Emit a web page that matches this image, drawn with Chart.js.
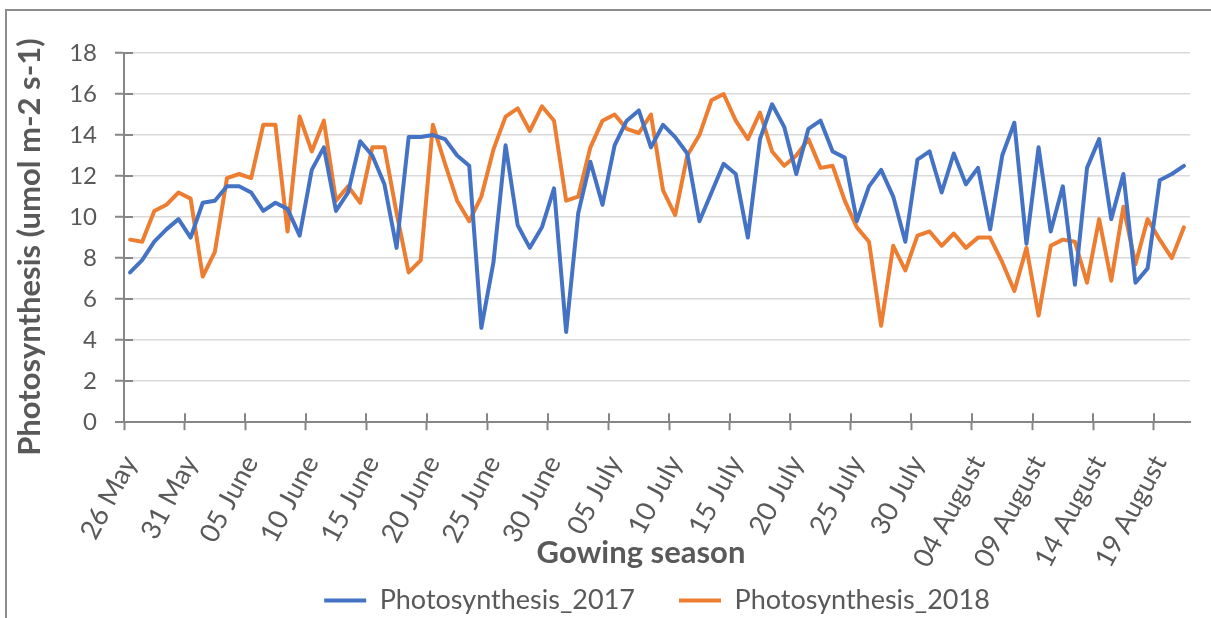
<!DOCTYPE html>
<html>
<head>
<meta charset="utf-8">
<script src="https://cdn.jsdelivr.net/npm/chart.js@4.4.1/dist/chart.umd.min.js"></script>
<style>
  html, body { margin: 0; padding: 0; background: #ffffff; }
  #wrap { width: 1211px; height: 618px; position: relative; }
</style>
</head>
<body>
<div id="wrap"><canvas id="chart" width="1211" height="618"></canvas></div>
<script>
// Daily categories: 26 May .. 21 August
const months = ['May', 'June', 'July', 'August'];
const monthDays = [31, 30, 31, 31];
const categories = [];
(function buildDays() {
  let m = 0, d = 26;
  for (let i = 0; i < 88; i++) {
    categories.push(String(d).padStart(2, '0') + ' ' + months[m]);
    d++;
    if (d > monthDays[m]) { d = 1; m++; }
  }
})();

// Every fifth day carries a tick label
const labelEvery = 5;

// Photosynthesis rate (umol m-2 s-1)
const photosynthesis2017 = [
  7.3, 7.9, 8.8, 9.4, 9.9, 9.0, 10.7, 10.8, 11.5, 11.5,
  11.2, 10.3, 10.7, 10.4, 9.1, 12.3, 13.4, 10.3, 11.2, 13.7,
  13.0, 11.6, 8.5, 13.9, 13.9, 14.0, 13.8, 13.0, 12.5, 4.6,
  7.8, 13.5, 9.6, 8.5, 9.5, 11.4, 4.4, 10.2, 12.7, 10.6,
  13.5, 14.7, 15.2, 13.4, 14.5, 13.9, 13.1, 9.8, 11.2, 12.6,
  12.1, 9.0, 13.8, 15.5, 14.4, 12.1, 14.3, 14.7, 13.2, 12.9,
  9.8, 11.5, 12.3, 11.0, 8.8, 12.8, 13.2, 11.2, 13.1, 11.6,
  12.4, 9.4, 13.0, 14.6, 8.7, 13.4, 9.3, 11.5, 6.7, 12.4,
  13.8, 9.9, 12.1, 6.8, 7.5, 11.8, 12.1, 12.5
];
const photosynthesis2018 = [
  8.9, 8.8, 10.3, 10.6, 11.2, 10.9, 7.1, 8.3, 11.9, 12.1,
  11.9, 14.5, 14.5, 9.3, 14.9, 13.2, 14.7, 10.8, 11.5, 10.7,
  13.4, 13.4, 10.2, 7.3, 7.9, 14.5, 12.6, 10.8, 9.8, 11.0,
  13.3, 14.9, 15.3, 14.2, 15.4, 14.7, 10.8, 11.0, 13.4, 14.7,
  15.0, 14.3, 14.1, 15.0, 11.3, 10.1, 13.0, 14.0, 15.7, 16.0,
  14.7, 13.8, 15.1, 13.2, 12.5, 13.0, 13.8, 12.4, 12.5, 10.8,
  9.5, 8.8, 4.7, 8.6, 7.4, 9.1, 9.3, 8.6, 9.2, 8.5,
  9.0, 9.0, 7.8, 6.4, 8.5, 5.2, 8.6, 8.9, 8.8, 6.8,
  9.9, 6.9, 10.5, 7.7, 9.9, 8.9, 8.0, 9.5
];

const seriesNames = ['Photosynthesis_2017', 'Photosynthesis_2018'];
const yTitle = 'Photosynthesis (umol m-2 s-1)';
const xTitle = 'Gowing season';

const FONT = 'Lato, "Open Sans", sans-serif';
const TEXT = '#595959';
const AXIS = '#868686';
const GRID = '#d9d9d9';
const BLUE = '#4472C4';
const ORANGE = '#ED7D31';

// Frame, inner halves of the cross tick marks, and the axis titles
const decorations = {
  id: 'decorations',
  beforeDraw(chart) {
    const ctx = chart.ctx;
    ctx.save();
    ctx.fillStyle = '#ffffff';
    ctx.fillRect(0, 0, chart.width, chart.height);
    ctx.strokeStyle = '#8c8c8c';
    ctx.lineWidth = 2;
    ctx.strokeRect(6, 10, 1400, 800);
    ctx.restore();
  },
  beforeDatasetsDraw(chart) {
    const { ctx, chartArea, scales: { x, y } } = chart;
    ctx.save();
    ctx.strokeStyle = AXIS;
    ctx.lineWidth = 2;
    y.ticks.forEach(t => {
      const py = Math.round(y.getPixelForValue(t.value));
      ctx.beginPath();
      ctx.moveTo(chartArea.left, py);
      ctx.lineTo(chartArea.left + 9, py);
      ctx.stroke();
    });
    for (let i = 0; i < categories.length; i += labelEvery) {
      const px = Math.round(x.getPixelForValue(i - 0.5));
      ctx.beginPath();
      ctx.moveTo(px, chartArea.bottom);
      ctx.lineTo(px, chartArea.bottom - 9);
      ctx.stroke();
    }
    ctx.restore();
  },
  afterDraw(chart) {
    const ctx = chart.ctx;
    ctx.save();
    ctx.fillStyle = TEXT;
    ctx.textAlign = 'center';
    ctx.textBaseline = 'middle';
    ctx.font = 'bold 31px ' + FONT;
    ctx.translate(30, 247);
    ctx.rotate(-Math.PI / 2);
    ctx.fillText(yTitle, 0, 0);
    ctx.restore();
    ctx.save();
    ctx.fillStyle = TEXT;
    ctx.textAlign = 'center';
    ctx.textBaseline = 'middle';
    ctx.font = 'bold 31px ' + FONT;
    ctx.fillText(xTitle, 641, 553);
    ctx.restore();
  }
};

new Chart(document.getElementById('chart'), {
  type: 'line',
  data: {
    labels: categories,
    datasets: [
      {
        label: seriesNames[0],
        data: photosynthesis2017,
        borderColor: BLUE,
        backgroundColor: BLUE,
        borderWidth: 4,
        pointRadius: 0,
        tension: 0,
        borderJoinStyle: 'round',
        borderCapStyle: 'round'
      },
      {
        label: seriesNames[1],
        data: photosynthesis2018,
        borderColor: ORANGE,
        backgroundColor: ORANGE,
        borderWidth: 4,
        pointRadius: 0,
        tension: 0,
        borderJoinStyle: 'round',
        borderCapStyle: 'round'
      }
    ]
  },
  options: {
    responsive: false,
    animation: false,
    devicePixelRatio: 1,
    layout: { padding: { left: 6, right: 21, top: 53, bottom: -6 } },
    plugins: {
      tooltip: { enabled: false },
      legend: {
        position: 'bottom',
        fullSize: false,
        labels: {
          color: TEXT,
          font: { family: FONT, size: 27 },
          boxWidth: 42,
          boxHeight: 4,
          padding: 44,
          generateLabels(chart) {
            const items = Chart.defaults.plugins.legend.labels.generateLabels(chart);
            items.forEach(it => { it.strokeStyle = 'rgba(0,0,0,0)'; });
            return items;
          }
        }
      }
    },
    scales: {
      x: {
        type: 'category',
        offset: true,
        afterFit(scale) {
          scale.height = 120.8;
          scale.paddingLeft = 0;
          scale.paddingRight = 0;
          // long rotated dates run past the legend's top edge
          scale._computeLabelArea = () => null;
        },
        grid: {
          display: true,
          offset: true,
          drawOnChartArea: false,
          drawTicks: true,
          tickLength: 8,
          tickWidth: 2,
          tickColor: ctx => (ctx.index % labelEvery === 0 ? AXIS : 'rgba(0,0,0,0)')
        },
        border: { display: true, color: AXIS, width: 2 },
        ticks: {
          autoSkip: false,
          minRotation: 62,
          maxRotation: 62,
          padding: 20,
          color: TEXT,
          font: { family: FONT, size: 27 },
          callback(value, index) { return index % labelEvery === 0 ? categories[index] : ''; }
        }
      },
      y: {
        min: 0,
        max: 18,
        afterFit(scale) { scale.width = 118; },
        grid: {
          color: ctx => (ctx.tick && ctx.tick.value === 0 ? AXIS : GRID),
          lineWidth: ctx => (ctx.tick && ctx.tick.value === 0 ? 2 : 1.5),
          drawTicks: true,
          tickLength: 9,
          tickWidth: 2,
          tickColor: AXIS
        },
        border: { display: true, color: AXIS, width: 2 },
        ticks: {
          stepSize: 2,
          padding: 18,
          color: TEXT,
          font: { family: FONT, size: 24 }
        }
      }
    }
  },
  plugins: [decorations]
});
</script>
</body>
</html>
